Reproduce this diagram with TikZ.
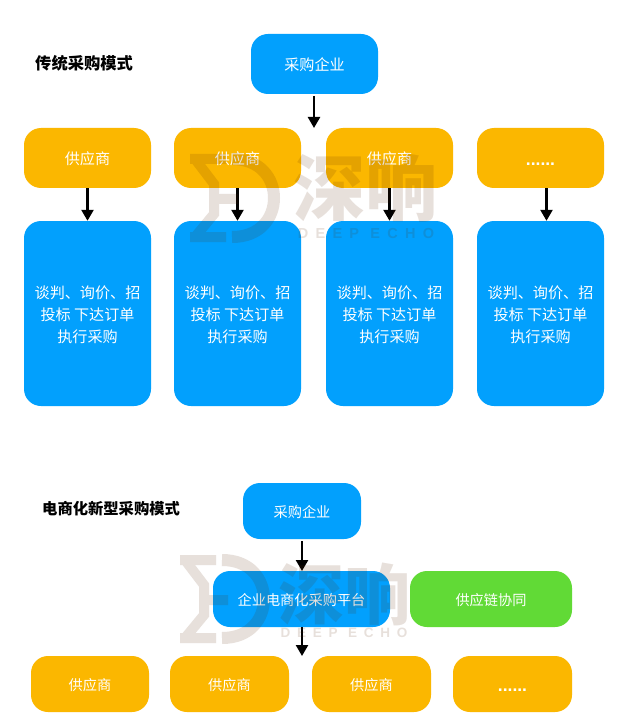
\documentclass[tikz,border=0pt]{standalone}
\usepackage{fontspec}
\setmainfont{Noto Sans CJK SC}
\newfontfamily\latinwm[LetterSpace=50]{Liberation Sans}
\newfontfamily\dotfont{Liberation Sans}
\usetikzlibrary{arrows.meta}
\definecolor{bluebox}{RGB}{2,160,253}
\definecolor{orangebox}{RGB}{251,183,0}
\definecolor{greenbox}{RGB}{97,218,54}
\definecolor{wmcol}{RGB}{90,40,0}
\tikzset{
 x=1pt,y=-1pt,
 rbox/.style={rounded corners=17pt,text=white,inner sep=0pt,align=center,font=\fontsize{15.1}{22}\selectfont},
 blue box/.style={rbox,fill=bluebox},
 orange box/.style={rbox,fill=orangebox},
 green box/.style={rbox,fill=greenbox},
 small text/.style={font=\fontsize{14.2}{20}\selectfont},
 flow/.style={draw=black,line width=2.4pt,-{Triangle[length=11pt,width=12pt]}},
 heading/.style={anchor=west,inner sep=0pt},
 wmgroup/.style={transparency group,opacity=.14},
 wmtext/.style={inner sep=0pt,text=wmcol},
 wmline/.style={draw=wmcol,line join=miter,line width=10pt}
}
\newcommand{\boxnode}[7]{\node[#1,minimum width=#4-#3,minimum height=#6-#5] (#2) at ({(#3+#4)/2},{(#5+#6)/2}) {\raisebox{-5.8pt}[0pt][0pt]{\begin{tabular}{@{}c@{}}#7\end{tabular}}};}
\newcommand{\wmark}{%
  \draw[wmline] (0,5) -- (36,5);
  \draw[wmline] (0,83) -- (36,83);
  \draw[wmline] (5,5) -- (24,30) -- (24,60) -- (5,83);
  \draw[wmline] (24,45) -- (48,45);
  \draw[wmline,line width=12pt] (42,5) .. controls (70,5) and (84,24) .. (84,44) .. controls (84,64) and (70,83) .. (42,83);}
\newcommand{\dotrow}{\raisebox{-1pt}{\dotfont\bfseries\fontsize{17.5}{20}\selectfont ......}}
\begin{document}
\begin{tikzpicture}
\useasboundingbox (0,0) rectangle (621,727);
\fill[white] (0,0) rectangle (621,727);
\node[heading,font=\fontsize{16.3}{18}\selectfont\bfseries] (t1) at (35,63) {传统采购模式};
\node[heading,font=\fontsize{15.3}{18}\selectfont\bfseries] (t2) at (42,509) {电商化新型采购模式};
\boxnode{blue box}{top}{251}{378}{34}{94}{采购企业}
\boxnode{orange box}{s1}{24}{151}{128}{188}{供应商}
\boxnode{orange box}{s2}{174}{301}{128}{188}{供应商}
\boxnode{orange box}{s3}{326}{453}{128}{188}{供应商}
\boxnode{orange box}{s4}{477}{604}{128}{188}{\dotrow}
\boxnode{blue box}{p1}{24}{151}{221}{406}{谈判、询价、招\\投标 下达订单\\执行采购}
\boxnode{blue box}{p2}{174}{301}{221}{406}{谈判、询价、招\\投标 下达订单\\执行采购}
\boxnode{blue box}{p3}{326}{453}{221}{406}{谈判、询价、招\\投标 下达订单\\执行采购}
\boxnode{blue box}{p4}{477}{604}{221}{406}{谈判、询价、招\\投标 下达订单\\执行采购}
\boxnode{blue box,small text}{ent}{243}{361}{483}{539}{采购企业}
\boxnode{blue box,small text}{plat}{213}{390}{571}{627}{企业电商化采购平台}
\boxnode{green box,small text}{chain}{410}{572}{571}{627}{供应链协同}
\boxnode{orange box,small text}{b1}{31}{149}{656}{712}{供应商}
\boxnode{orange box,small text}{b2}{170}{289}{656}{712}{供应商}
\boxnode{orange box,small text}{b3}{312}{431}{656}{712}{供应商}
\boxnode{orange box,small text}{b4}{453}{572}{656}{712}{\dotrow}
\coordinate (c0) at (314,128);
\coordinate (c1) at (302,656);
\coordinate (c2) at (302,541);
\coordinate (c3) at (302,571);
\coordinate (c4) at (302,627);
\coordinate (c5) at (314,96);
\draw[flow] (c5) -- (c0);
\draw[flow] (s1.south) -- (p1.north);
\draw[flow] (s2.south) -- (p2.north);
\draw[flow] (s3.south) -- (p3.north);
\draw[flow] ([xshift=6pt]s4.south) -- ([xshift=6pt]p4.north);
\draw[flow] (c2) -- (c3);
\draw[flow] (c4) -- (c1);
\begin{scope}[wmgroup]
 \begin{scope}[shift={(190,154)}]\wmark\end{scope}
 \node[wmtext,font=\fontsize{72}{72}\selectfont\bfseries] (w1) at (365,188) {深响};
 \node[wmtext,font=\latinwm\bfseries\fontsize{14.5}{15}\selectfont] (w2) at (366,234) {DEEP ECHO};
\end{scope}
\begin{scope}[wmgroup]
 \begin{scope}[shift={(180,555)}]\wmark\end{scope}
 \node[wmtext,font=\fontsize{66}{66}\selectfont\bfseries] (w3) at (344,594) {深响};
 \node[wmtext,font=\latinwm\bfseries\fontsize{13.5}{14}\selectfont] (w4) at (344,633) {DEEP ECHO};
\end{scope}
\end{tikzpicture}
\end{document}
